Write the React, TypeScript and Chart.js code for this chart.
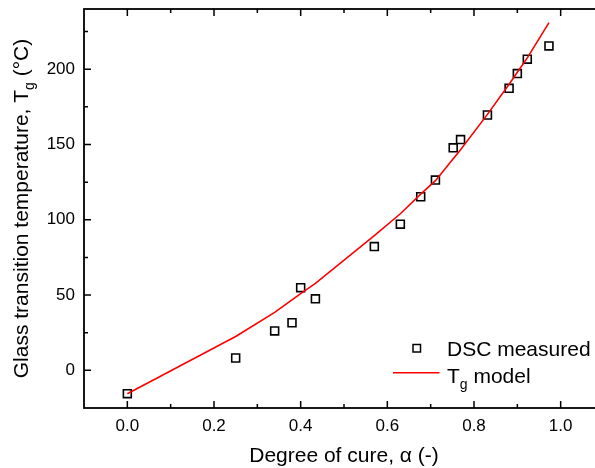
import React, { useEffect, useRef } from "react";
import { Chart, registerables } from "chart.js";

Chart.register(...registerables);

// Degree of cure (alpha) for each sample
const alpha = [0, 0.25, 0.34, 0.38, 0.40, 0.434, 0.57, 0.63, 0.677, 0.711, 0.752, 0.769, 0.831, 0.881, 0.90, 0.923, 0.973];
// DSC measured glass transition temperature (°C)
const tgMeasured = [-15.5, 8.2, 26.2, 31.6, 54.9, 47.5, 82.2, 97.1, 115.3, 126.4, 147.8, 153.3, 169.6, 187.3, 197.1, 206.7, 215.5];
// Tg model (°C) at the same alpha values
const tgModel = [-15.5, 22.5, 38.5, 46.8, 51, 57.7, 89.5, 104, 117, 126, 140.5, 146.5, 170, 190, 198, 207.5, 231];

const xTicks = [0, 0.2, 0.4, 0.6, 0.8, 1.0];
const xMinor = [0.1, 0.3, 0.5, 0.7, 0.9];
const yTicks = [0, 50, 100, 150, 200];
const yMinor = [25, 75, 125, 175, 225];

const FONT = "'Liberation Sans', Arial, Helvetica, sans-serif";

type Seg = { t: string; sub?: boolean };

function drawRich(ctx: CanvasRenderingContext2D, segs: Seg[], x: number, y: number, size: number, align: "left" | "center") {
  const main = `${size}px ${FONT}`;
  const subF = `${Math.round(size * 0.68)}px ${FONT}`;
  let total = 0;
  const widths = segs.map((s) => {
    ctx.font = s.sub ? subF : main;
    const w = ctx.measureText(s.t).width;
    total += w;
    return w;
  });
  let cx = align === "center" ? x - total / 2 : x;
  ctx.textAlign = "left";
  ctx.textBaseline = "alphabetic";
  segs.forEach((s, i) => {
    ctx.font = s.sub ? subF : main;
    ctx.fillText(s.t, cx, s.sub ? y + size * 0.3 : y);
    cx += widths[i];
  });
}

const framePlugin = {
  id: "frame",
  afterDraw(chart: any) {
    const { ctx, chartArea: a, scales } = chart;
    const xs = scales.x;
    const ys = scales.y;
    ctx.save();
    ctx.strokeStyle = "#000";
    ctx.lineWidth = 1.5;
    ctx.beginPath();
    const majL = 7;
    const minL = 4;
    xTicks.forEach((v) => {
      const px = xs.getPixelForValue(v);
      ctx.moveTo(px, a.bottom);
      ctx.lineTo(px, a.bottom - majL);
      ctx.moveTo(px, a.top);
      ctx.lineTo(px, a.top + majL);
    });
    xMinor.forEach((v) => {
      const px = xs.getPixelForValue(v);
      ctx.moveTo(px, a.bottom);
      ctx.lineTo(px, a.bottom - minL);
      ctx.moveTo(px, a.top);
      ctx.lineTo(px, a.top + minL);
    });
    yTicks.forEach((v) => {
      const py = ys.getPixelForValue(v);
      ctx.moveTo(a.left, py);
      ctx.lineTo(a.left + majL, py);
      ctx.moveTo(a.right, py);
      ctx.lineTo(a.right - majL, py);
    });
    yMinor.forEach((v) => {
      const py = ys.getPixelForValue(v);
      ctx.moveTo(a.left, py);
      ctx.lineTo(a.left + minL, py);
      ctx.moveTo(a.right, py);
      ctx.lineTo(a.right - minL, py);
    });
    ctx.stroke();
    ctx.lineWidth = 1.8;
    ctx.strokeRect(a.left, a.top, a.right - a.left, a.bottom - a.top);

    ctx.fillStyle = "#000";
    // x title
    drawRich(ctx, [{ t: "Degree of cure, α (-)" }], (a.left + a.right) / 2, 461.5, 21, "center");
    // y title
    ctx.save();
    ctx.translate(28, (a.top + a.bottom) / 2);
    ctx.rotate(-Math.PI / 2);
    drawRich(ctx, [{ t: "Glass transition temperature, T" }, { t: "g", sub: true }, { t: " (°C)" }], 0, 0, 21, "center");
    ctx.restore();

    // legend
    ctx.lineWidth = 1.5;
    ctx.strokeStyle = "#000";
    ctx.strokeRect(413, 344.5, 7.5, 7.5);
    ctx.strokeStyle = "#ff0000";
    ctx.beginPath();
    ctx.moveTo(393, 372.7);
    ctx.lineTo(439.5, 372.7);
    ctx.stroke();
    ctx.fillStyle = "#000";
    drawRich(ctx, [{ t: "DSC measured" }], 447, 356, 21, "left");
    drawRich(ctx, [{ t: "T" }, { t: "g", sub: true }, { t: " model" }], 447, 383, 21, "left");
    ctx.restore();
  },
};

export default function App() {
  const ref = useRef<HTMLCanvasElement | null>(null);
  useEffect(() => {
    if (!ref.current) return;
    const chart = new Chart(ref.current, {
      type: "scatter",
      data: {
        datasets: [
          {
            label: "Tg model",
            data: alpha.map((a, i) => ({ x: a, y: tgModel[i] })),
            showLine: true,
            borderColor: "#ff0000",
            borderWidth: 1.6,
            pointRadius: 0,
            fill: false,
            order: 0,
          },
          {
            label: "DSC measured",
            data: alpha.map((a, i) => ({ x: a, y: tgMeasured[i] })),
            showLine: false,
            pointStyle: "rect",
            pointRadius: 5.6,
            pointBorderWidth: 1.6,
            pointBorderColor: "#000",
            pointBackgroundColor: "rgba(0,0,0,0)",
            order: 1,
          },
        ],
      },
      options: {
        animation: false,
        responsive: false,
        devicePixelRatio: 1,
        layout: { padding: { top: 9, right: 16, left: 0, bottom: 0 } },
        plugins: { legend: { display: false }, tooltip: { enabled: false } },
        scales: {
          x: {
            type: "linear",
            min: -0.1,
            max: 1.1,
            afterBuildTicks: (s: any) => {
              s.ticks = xTicks.map((v) => ({ value: v }));
            },
            afterFit: (s: any) => {
              s.height = 60;
              s.paddingLeft = 0;
              s.paddingRight = 0;
            },
            ticks: {
              callback: (v: any) => Number(v).toFixed(1),
              color: "#000",
              font: { family: FONT, size: 17 },
              padding: 8,
              maxRotation: 0,
              autoSkip: false,
            },
            grid: { display: false, drawTicks: false },
            border: { display: false },
          },
          y: {
            type: "linear",
            min: -25,
            max: 240,
            afterBuildTicks: (s: any) => {
              s.ticks = yTicks.map((v) => ({ value: v }));
            },
            afterFit: (s: any) => {
              s.width = 84;
              s.paddingTop = 0;
              s.paddingBottom = 0;
            },
            ticks: {
              callback: (v: any) => String(v),
              color: "#000",
              font: { family: FONT, size: 17 },
              padding: 9,
              autoSkip: false,
            },
            grid: { display: false, drawTicks: false },
            border: { display: false },
          },
        },
      },
      plugins: [framePlugin],
    });
    return () => chart.destroy();
  }, []);
  return (
    <div style={{ position: "fixed", left: 0, top: 0, width: 595, height: 468, overflow: "hidden", background: "#fff" }}>
      <canvas ref={ref} width={620} height={468} style={{ display: "block" }} />
    </div>
  );
}
